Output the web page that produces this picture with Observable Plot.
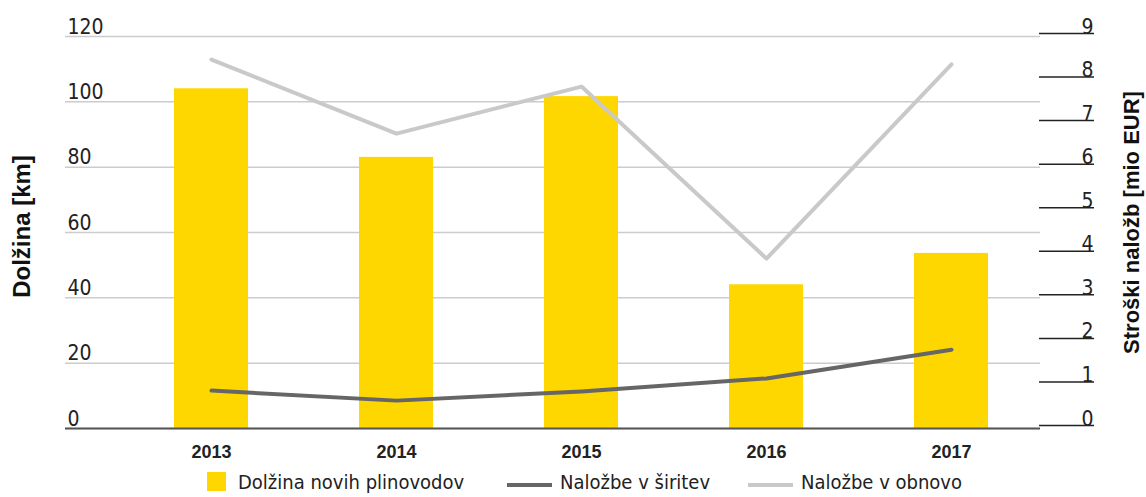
<!DOCTYPE html>
<html>
<head>
<meta charset="utf-8">
<script src="https://cdn.jsdelivr.net/npm/d3@7"></script>
<script src="https://cdn.jsdelivr.net/npm/@observablehq/plot@0.6"></script>
<style>
  html, body { margin: 0; padding: 0; background: #fff; }
  #chart svg { display: block; }
  .legend { position: relative; width: 1146px; height: 31px; font-family: 'Liberation Sans Narrow', 'DejaVu Sans Condensed', sans-serif; font-stretch: condensed; font-size: 20px; color: #222; }
  .legend .item { position: absolute; top: 0; height: 31px; display: flex; align-items: center; }
  .legend .sw-rect { width: 19px; height: 19px; margin-right: 12px; }
  .legend .sw-line { width: 45px; height: 4px; margin-right: 8px; margin-top: 6px; }
</style>
</head>
<body>
<div id="chart"></div>
<div class="legend" id="legend"></div>
<script>
const years = ["2013", "2014", "2015", "2016", "2017"];
const dolzina = [104, 83, 101.6, 44, 53.6];          // km
const siritev = [0.87, 0.64, 0.85, 1.15, 1.81];      // mio EUR
const obnova = [8.47, 6.77, 7.85, 3.9, 8.36];        // mio EUR
const leftTicks = [0, 20, 40, 60, 80, 100, 120];
const rightTicks = [0, 1, 2, 3, 4, 5, 6, 7, 8, 9];
const leftMax = 120, rightMax = 9;
const seriesNames = ["Dolžina novih plinovodov", "Naložbe v širitev", "Naložbe v obnovo"];
const colors = ["#FFD700", "#666666", "#c9c9c9"];

const bars = years.map((y, i) => ({year: y, v: dolzina[i]}));
const lineS = years.map((y, i) => ({year: y, v: siritev[i]}));
const lineO = years.map((y, i) => ({year: y, v: obnova[i]}));
const toLeft = v => v * leftMax / rightMax;

const font = "'Liberation Sans Narrow', 'DejaVu Sans Condensed', sans-serif";
const boldFont = "'Liberation Sans', Arial, sans-serif";

const chart = Plot.plot({
  width: 1146,
  height: 466,
  marginLeft: 65,
  marginRight: 106,
  marginTop: 36,
  marginBottom: 38,
  style: {fontFamily: font, fontStretch: "condensed", color: "#222", background: "#fff", overflow: "visible"},
  x: {domain: years, range: [174, 992], paddingInner: 0.6, paddingOuter: 0, align: 0, axis: null},
  y: {domain: [0, leftMax], axis: null},
  marks: [
    Plot.gridY(leftTicks, {stroke: "#cccccc", strokeOpacity: 1, strokeWidth: 1.5}),
    Plot.barY(bars, {x: "year", y: "v", fill: colors[0]}),
    Plot.ruleY([0], {stroke: "#555", strokeWidth: 2}),
    Plot.line(lineS, {x: "year", y: d => toLeft(d.v), stroke: colors[1], strokeWidth: 4}),
    Plot.line(lineO, {x: "year", y: d => toLeft(d.v), stroke: colors[2], strokeWidth: 4}),
    Plot.axisY(leftTicks, {anchor: "left", tickSize: 0, tickPadding: 0, textAnchor: "start", dx: 2, lineAnchor: "bottom", dy: -3, fontSize: 21, fill: "#222", label: null}),
    Plot.axisY(rightTicks.map(toLeft), {anchor: "right", tickSize: 55, tickPadding: 0, stroke: "#222", strokeWidth: 1.5,
      tickFormat: d => String(Math.round(d * rightMax / leftMax)), textAnchor: "end", dx: -2, lineAnchor: "bottom", dy: -3,
      fontSize: 21, fill: "#222", label: null}),
    Plot.axisX({tickSize: 0, tickPadding: 17, fontSize: 18, fontWeight: "bold", fontFamily: boldFont, fill: "#222", label: null}),
    Plot.text(["Dolžina [km]"], {frameAnchor: "left", textAnchor: "middle", rotate: -90, dx: -43, dy: -6, fontSize: 24, fontWeight: "bold", fontFamily: boldFont, fill: "#111"}),
    Plot.text(["Stroški naložb [mio EUR]"], {frameAnchor: "right", textAnchor: "middle", rotate: -90, dx: 91, dy: -10, fontSize: 22, fontWeight: "bold", fontFamily: boldFont, fill: "#111"})
  ]
});
document.getElementById("chart").appendChild(chart);

// legend
const legend = document.getElementById("legend");
const lefts = [207, 507, 748];
seriesNames.forEach((name, i) => {
  const item = document.createElement("div");
  item.className = "item";
  item.style.left = lefts[i] + "px";
  const sw = document.createElement("span");
  sw.className = i === 0 ? "sw-rect" : "sw-line";
  sw.style.background = colors[i];
  const tx = document.createElement("span");
  tx.textContent = name;
  item.appendChild(sw);
  item.appendChild(tx);
  legend.appendChild(item);
});
</script>
</body>
</html>
